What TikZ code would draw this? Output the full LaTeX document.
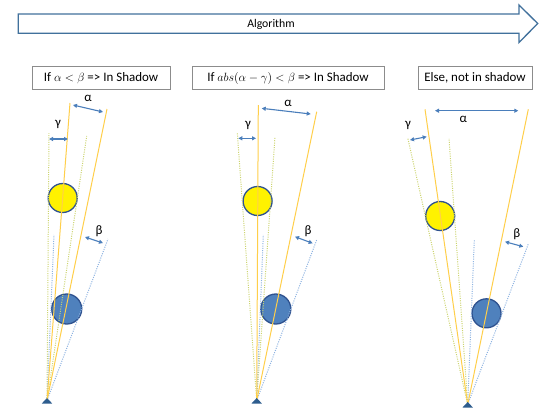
\documentclass[tikz,border=0pt]{standalone}
\usepackage{fontspec}
\setmainfont{Carlito}
\usetikzlibrary{arrows.meta}
\definecolor{ysolid}{HTML}{FFCF4A}
\definecolor{ydotc}{HTML}{CCD46E}
\definecolor{bdotc}{HTML}{8DB3E2}
\definecolor{arrowc}{HTML}{4A7EBB}
\definecolor{ringc}{HTML}{2F528F}
\definecolor{bluefill}{HTML}{4F81BD}
\definecolor{bigarrow}{HTML}{41719C}
\definecolor{boxc}{HTML}{8C8C8C}
\definecolor{apexc}{HTML}{2E5D8E}
\begin{document}
\begin{tikzpicture}[x=1bp,y=-1bp,
  ysol/.style={draw=ysolid,line width=1bp},
  ydot/.style={draw=ydotc,line width=1bp,dash pattern=on 1bp off 1.3bp},
  bdot/.style={draw=bdotc,line width=1bp,dash pattern=on 1bp off 1.3bp},
  dblarrow/.style={draw=arrowc,line width=1.1bp,{Triangle[length=4bp,width=4bp]}-{Triangle[length=4bp,width=4bp]}},
  ysun/.style={draw=ringc,line width=1.3bp,fill=yellow},
  bball/.style={draw=ringc,line width=1.3bp,fill=bluefill},
  condbox/.style={draw=boxc,line width=0.9bp,minimum height=23bp,inner sep=0pt,font=\fontsize{13}{14}\selectfont},
  glab/.style={font=\fontsize{13}{14}\selectfont,text=black,inner sep=0pt},
  apextri/.style={fill=apexc}
]
\useasboundingbox (0,0) rectangle (550,412);
\fill[white] (0,0) rectangle (550,412);

% top arrow
\draw[bigarrow,line width=1.3bp,fill=white]
  (18.3,14) -- (519,14) -- (519,5) -- (537.7,23.5) -- (519,42.5) -- (519,33.3) -- (18.3,33.3) -- cycle;
\node[font=\fontsize{11.8}{13}\selectfont,inner sep=0pt] (alg) at (271,24) {Algorithm};

% condition boxes
\node[condbox,minimum width=138bp] (c1) at (101,77.7) {If $\alpha<\beta$ => In Shadow};
\node[condbox,minimum width=192bp] (c2) at (288,78) {If $abs(\alpha-\gamma)<\beta$ => In Shadow};
\node[condbox,minimum width=114bp] (c3) at (475,77.5) {Else, not in shadow};

% ---------- panel 1 ----------
\coordinate (a1) at (47,400.5);
\node[ysun,circle,minimum size=29bp,inner sep=0pt] (s1) at (62.7,198) {};
\node[bball,circle,minimum size=30bp,inner sep=0pt] (b1) at (66.7,309) {};
\coordinate (y1c) at (70,103);
\coordinate (b1c) at (107,109);
\coordinate (y1l) at (49,133);
\coordinate (y1r) at (86.7,136);
\coordinate (b1l) at (54,235);
\coordinate (b1r) at (108,239);
\draw[ydot] (a1) -- (y1l);
\draw[ydot] (a1) -- (y1r);
\draw[bdot] (a1) -- (b1l);
\draw[bdot] (a1) -- (b1r);
\draw[ysol] (a1) -- (y1c);
\draw[ysol] (a1) -- (b1c);
\fill[apextri] (a1) ++(0,-2.5) -- ++(5.2,5.5) -- ++(-10.4,0) -- cycle;
\coordinate (al1s) at (73,105);
\coordinate (al1e) at (103,112);
\draw[dblarrow] (al1s) -- (al1e);
\node[glab] (al1) at (88,98) {α};
\coordinate (g1s) at (49,139);
\coordinate (g1e) at (68,139);
\draw[dblarrow] (g1s) -- (g1e);
\node[glab] (g1) at (58,124) {γ};
\coordinate (be1s) at (85,237);
\coordinate (be1e) at (103,243);
\draw[dblarrow] (be1s) -- (be1e);
\node[glab] (be1) at (99,231) {β};

% ---------- panel 2 ----------
\coordinate (a2) at (256.7,400.5);
\node[ysun,circle,minimum size=29bp,inner sep=0pt] (s2) at (257.6,201) {};
\node[bball,circle,minimum size=30bp,inner sep=0pt] (b2) at (275.8,309) {};
\coordinate (y2c) at (258.3,105);
\coordinate (b2c) at (316.7,111.7);
\coordinate (y2l) at (237.3,133);
\coordinate (y2r) at (275,136.7);
\coordinate (b2l) at (263.3,235);
\coordinate (b2r) at (317,239);
\draw[ydot] (a2) -- (y2l);
\draw[ydot] (a2) -- (y2r);
\draw[bdot] (a2) -- (b2l);
\draw[bdot] (a2) -- (b2r);
\draw[ysol] (a2) -- (y2c);
\draw[ysol] (a2) -- (b2c);
\fill[apextri] (a2) ++(0,-2.5) -- ++(5.2,5.5) -- ++(-10.4,0) -- cycle;
\coordinate (al2s) at (261.7,108.3);
\coordinate (al2e) at (310.7,114);
\draw[dblarrow] (al2s) -- (al2e);
\node[glab] (al2) at (288,103) {α};
\coordinate (g2s) at (238.3,138.3);
\coordinate (g2e) at (256,138.3);
\draw[dblarrow] (g2s) -- (g2e);
\node[glab] (g2) at (248,125) {γ};
\coordinate (be2s) at (295,236.7);
\coordinate (be2e) at (312.7,243.3);
\draw[dblarrow] (be2s) -- (be2e);
\node[glab] (be2) at (308,231.5) {β};

% ---------- panel 3 ----------
\coordinate (a3) at (467.7,404.5);
\node[ysun,circle,minimum size=29bp,inner sep=0pt] (s3) at (440.2,216) {};
\node[bball,circle,minimum size=29bp,inner sep=0pt] (b3) at (486.5,313.3) {};
\coordinate (y3c) at (425,109.3);
\coordinate (b3c) at (528.3,109.3);
\coordinate (y3l) at (407.7,137.7);
\coordinate (y3r) at (449,138.3);
\coordinate (b3l) at (474.3,240);
\coordinate (b3r) at (528.3,244);
\draw[ydot] (a3) -- (y3l);
\draw[ydot] (a3) -- (y3r);
\draw[bdot] (a3) -- (b3l);
\draw[bdot] (a3) -- (b3r);
\draw[ysol] (a3) -- (y3c);
\draw[ysol] (a3) -- (b3c);
\fill[apextri] (a3) ++(0,-2.5) -- ++(5.2,5.5) -- ++(-10.4,0) -- cycle;
\coordinate (al3s) at (435,110.7);
\coordinate (al3e) at (518.3,110.7);
\draw[dblarrow] (al3s) -- (al3e);
\node[glab] (al3) at (463.3,119.5) {α};
\coordinate (g3s) at (410,140);
\coordinate (g3e) at (426.7,136.7);
\draw[dblarrow] (g3s) -- (g3e);
\node[glab] (g3) at (408,125) {γ};
\coordinate (be3s) at (505,241.7);
\coordinate (be3e) at (523.3,246.7);
\draw[dblarrow] (be3s) -- (be3e);
\node[glab] (be3) at (516.7,234) {β};
\end{tikzpicture}
\end{document}
